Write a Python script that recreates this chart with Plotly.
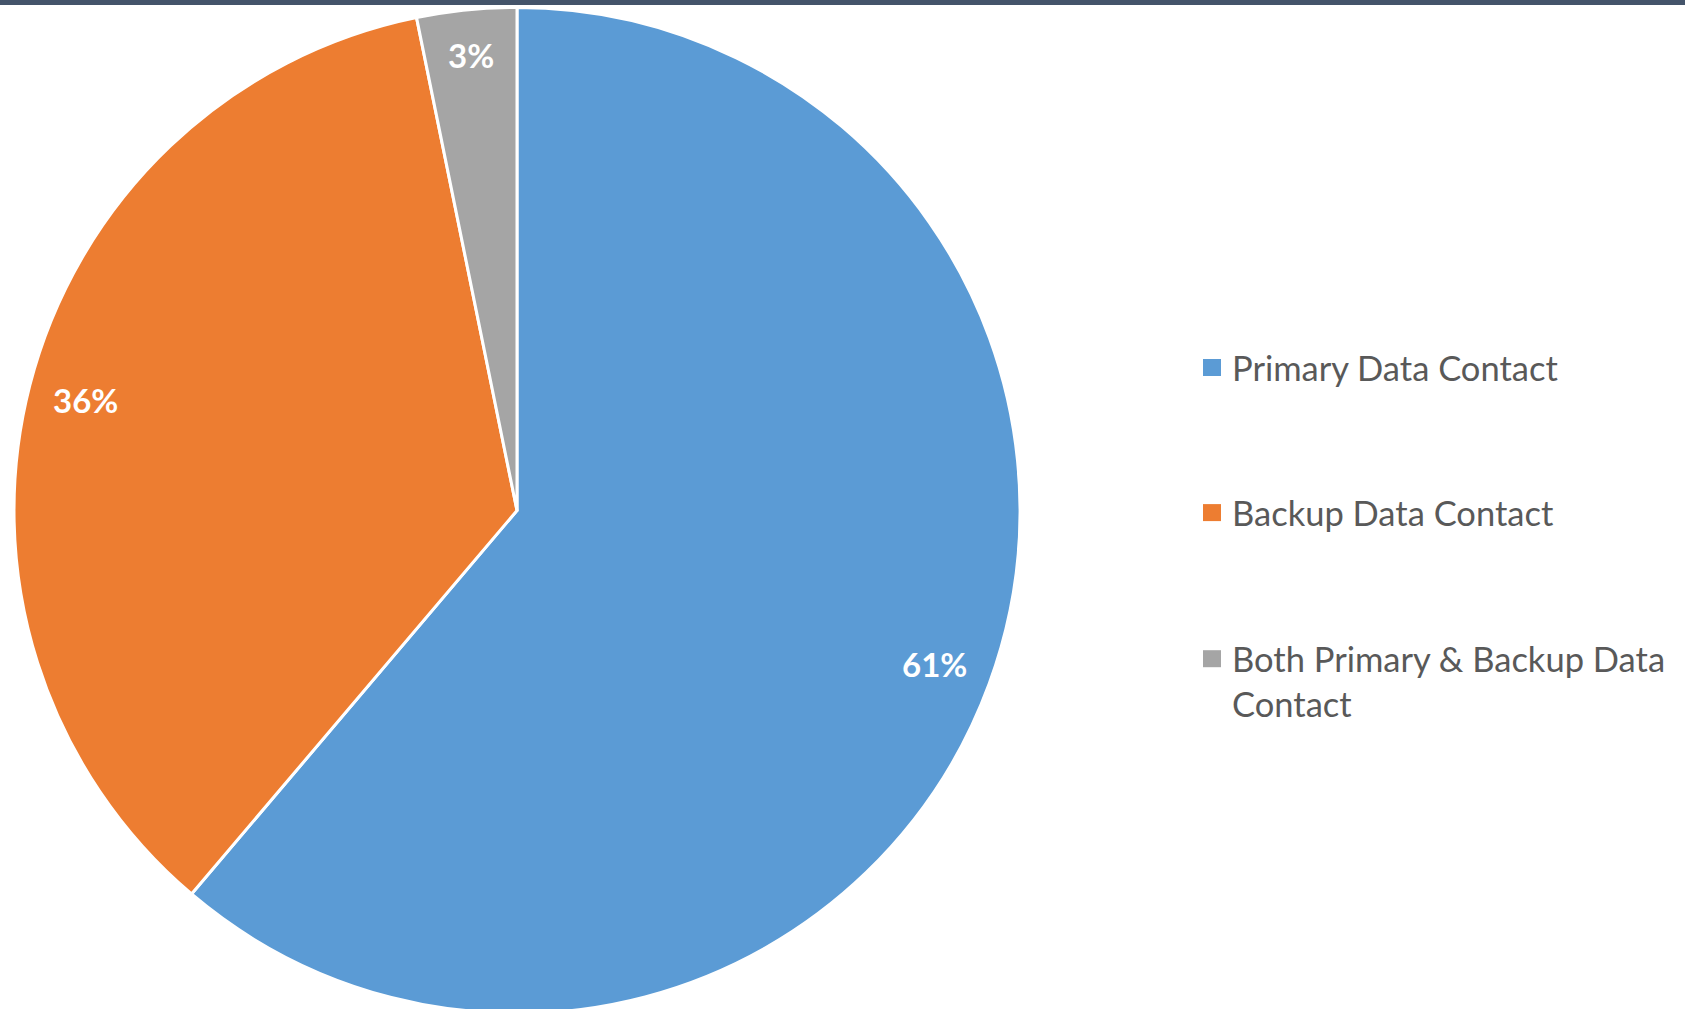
import math
import plotly.graph_objects as go

categories = ["Primary Data Contact", "Backup Data Contact", "Both Primary & Backup Data Contact"]
values = [61.2, 35.6, 3.2]
pct_labels = ["61%", "36%", "3%"]
legend_lines = [["Primary Data Contact"], ["Backup Data Contact"], ["Both Primary & Backup Data", "Contact"]]
colors = ["#5B9BD5", "#ED7D31", "#A5A5A5"]

W, H = 1685, 1016
cx, cy, R = 517, 510.5, 503

fig = go.Figure(go.Pie(
    labels=categories, values=values, sort=False, direction="clockwise", rotation=0,
    marker=dict(colors=colors, line=dict(color="white", width=3)),
    textinfo="none", hoverinfo="label+percent", showlegend=False,
    domain=dict(x=[(cx - R) / W, (cx + R) / W], y=[1 - (cy + R) / H, 1 - (cy - R) / H]),
))

annotations = []
total = sum(values)
cum = 0.0
for v, t in zip(values, pct_labels):
    mid = (cum + v / 2) / total * 2 * math.pi
    cum += v
    rf = 0.885 if v / total > 0.05 else 0.91
    px = cx + rf * R * math.sin(mid)
    py = cy - rf * R * math.cos(mid)
    annotations.append(dict(x=px / W, y=1 - py / H, xref="paper", yref="paper", text=t,
                            showarrow=False, xanchor="center", yanchor="middle",
                            font=dict(family="Lato", size=33, color="white", weight="bold")))

shapes = [dict(type="rect", xref="paper", yref="paper", x0=0, x1=1, y0=1 - 5 / H, y1=1,
               fillcolor="#44546A", line=dict(width=0), layer="above")]

row_centers = [367.5, 512.6, 681.3]
first_line_centers = [367.5, 512.6, 658.7]
for lines, col, rc, fc in zip(legend_lines, colors, row_centers, first_line_centers):
    shapes.append(dict(type="rect", xref="paper", yref="paper",
                       x0=1203 / W, x1=1221 / W, y0=1 - (fc + 8.5) / H, y1=1 - (fc - 8.5) / H,
                       fillcolor=col, line=dict(width=0)))
    annotations.append(dict(x=1230 / W, y=1 - rc / H, xref="paper", yref="paper",
                            text="<br>".join(lines), showarrow=False, xanchor="left", yanchor="middle",
                            align="left", font=dict(family="Lato", size=34.5, color="#595959")))

fig.update_layout(width=W, height=H, margin=dict(l=0, r=0, t=0, b=0),
                  paper_bgcolor="white", plot_bgcolor="white",
                  shapes=shapes, annotations=annotations)

fig.write_html("out.html", config={"displayModeBar": False},
               post_script="document.body.style.margin='0';document.body.style.overflow='hidden';"
                           "document.documentElement.style.overflow='hidden';")
